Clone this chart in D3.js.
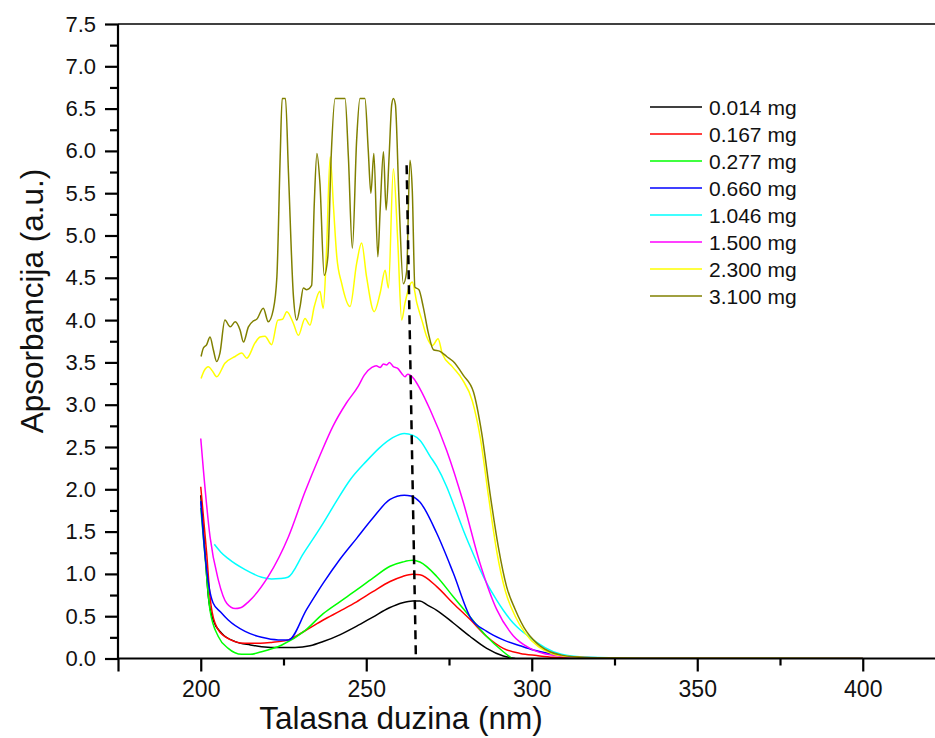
<!DOCTYPE html>
<html>
<head>
<meta charset="utf-8">
<script src="https://cdn.jsdelivr.net/npm/d3@7"></script>
<style>
  html, body { margin: 0; padding: 0; background: #fff; }
  svg { display: block; font-family: "Liberation Sans", Arial, sans-serif; }
</style>
</head>
<body>
<svg id="chart" width="935" height="738"></svg>
<script>
// UV-Vis absorption spectra: wavelength (nm) vs absorbance (a.u.)
const seriesLabels = ["0.014 mg", "0.167 mg", "0.277 mg", "0.660 mg", "1.046 mg", "1.500 mg", "2.300 mg", "3.100 mg"];
const seriesColors = ["#000000", "#ff0000", "#00ff00", "#0000ff", "#00ffff", "#ff00ff", "#ffff00", "#808000"];

const s0014 = [[200,1.93],[201.3,1.25],[202.3,0.73],[203.8,0.45],[206.3,0.30],[210.4,0.20],[215,0.16],[218.4,0.14],[224,0.13],[228.5,0.13],[233,0.15],[237,0.20],[242,0.28],[247,0.38],[252,0.49],[257,0.60],[261,0.66],[264,0.68],[266.2,0.68],[268.5,0.63],[271.3,0.57],[276.3,0.42],[281.4,0.26],[286.4,0.12],[291.4,0.03],[295,0]];

const s0167 = [[200,2.03],[201.8,1.24],[202.8,0.73],[204.3,0.42],[207.3,0.26],[213.4,0.18],[218,0.18],[221.4,0.19],[226.5,0.22],[232,0.34],[237,0.455],[242,0.56],[247.1,0.67],[252,0.79],[257.2,0.91],[261,0.97],[264,0.995],[266.2,0.99],[271.3,0.85],[276.3,0.65],[281.4,0.46],[286.4,0.26],[291.4,0.12],[296.5,0.06],[301.5,0.035],[306.5,0.015],[315,0.005],[330,0.002],[400,0]];

const s0277 = [[200,1.78],[201.3,1.2],[202.8,0.57],[205.3,0.26],[208.3,0.12],[212.4,0.05],[215,0.05],[218.4,0.08],[224.5,0.16],[231.5,0.33],[237,0.53],[242,0.67],[247.1,0.81],[252,0.95],[257.2,1.09],[261,1.14],[264,1.16],[266.2,1.14],[271.3,0.97],[276.3,0.73],[281.4,0.49],[286.4,0.26],[291.4,0.08],[294,0]];

const s0660 = [[200,1.86],[201.3,1.22],[202.5,0.85],[203.7,0.66],[206,0.55],[208.3,0.455],[213.4,0.32],[218.4,0.25],[223.4,0.22],[226.5,0.22],[232,0.58],[237,0.89],[242,1.17],[247.1,1.42],[252,1.66],[257.2,1.88],[261.5,1.93],[263.5,1.92],[266.2,1.85],[271.3,1.48],[276.3,1.01],[281.4,0.49],[286.4,0.32],[291.4,0.22],[296.5,0.15],[300.5,0.10],[306.5,0.05],[311,0.02],[320,0.008],[335,0.003],[400,0]];

const s1046 = [[204.1,1.35],[206,1.26],[208.3,1.18],[213.4,1.05],[218.4,0.96],[221.4,0.94],[224,0.945],[226.3,0.96],[231,1.24],[237,1.60],[241,1.86],[245.1,2.11],[250,2.33],[254,2.49],[258,2.61],[261.5,2.66],[264,2.64],[266.2,2.58],[269.3,2.39],[271.3,2.27],[274.3,2.03],[276.3,1.83],[279.3,1.52],[281.4,1.32],[284.4,1.05],[286.4,0.89],[289.4,0.69],[291.4,0.57],[294.4,0.42],[296.5,0.34],[299.5,0.25],[301.5,0.19],[306.5,0.08],[312,0.03],[320,0.012],[335,0.004],[400,0]];

const s1500 = [[200,2.6],[200.8,2.23],[202.8,1.44],[205.3,0.93],[207.9,0.65],[210.4,0.59],[212,0.60],[214.4,0.67],[220.4,0.97],[226.5,1.44],[231.5,1.97],[236,2.40],[240,2.75],[244,3.02],[247.6,3.22],[249.4,3.35],[251.7,3.44],[253,3.46],[254.2,3.44],[255.2,3.48],[256.2,3.47],[257,3.50],[258.2,3.45],[259.5,3.43],[260.7,3.37],[261.7,3.33],[262.5,3.36],[263.3,3.35],[264.5,3.30],[266.2,3.19],[269.3,2.94],[274.3,2.46],[279.3,1.85],[284.4,1.12],[289.4,0.58],[294.4,0.27],[299.5,0.12],[306,0.04],[315,0.012],[330,0.004],[400,0]];

const s2300 = [[200.1,3.31],[201,3.40],[202.3,3.45],[203.5,3.40],[204.8,3.33],[207.3,3.49],[210.4,3.57],[212.4,3.61],[213.9,3.55],[216.4,3.73],[217.9,3.80],[219.4,3.81],[221.4,3.71],[223.3,4.00],[224.7,4.01],[226,4.10],[228,3.96],[229.5,3.82],[231.5,4.02],[233,3.94],[234.3,4.16],[236,4.34],[237,4.14],[238,4.83],[239.1,5.93],[240.1,5.34],[241.1,4.75],[242.6,4.43],[245.1,4.16],[247.1,4.67],[248.6,4.91],[250.1,4.51],[252.4,4.10],[254.2,4.32],[255.7,4.59],[256.7,4.38],[258.2,5.79],[259.5,4.95],[260.7,4.00],[261.7,4.20],[263.9,4.45],[265.3,4.20],[266.8,4.00],[268.3,3.80],[270,3.70],[271.7,3.78],[273,3.60],[276,3.45],[279,3.30],[282,3.05],[284.5,2.6],[287,1.9],[289.5,1.25],[292,0.8],[295,0.5],[298,0.3],[302,0.14],[306,0.06],[312,0.02],[320,0.008],[340,0.003],[400,0]];

const s3100 = [[200.1,3.57],[200.8,3.67],[201.8,3.71],[202.8,3.80],[203.8,3.65],[204.8,3.51],[205.8,3.61],[207.3,4.00],[208.9,3.92],[210.4,3.98],[211.9,3.88],[212.9,3.74],[214.4,3.92],[215.9,3.99],[216.9,4.01],[218.9,4.14],[220.4,3.98],[221.9,4.12],[223.0,4.51],[224.0,5.93],[224.6,6.62],[225.6,6.62],[226.5,5.74],[228,4.28],[229,4.0],[230,4.16],[231,4.38],[232,4.36],[233.5,4.41],[234.3,5.38],[235.1,5.97],[236,5.62],[237.3,4.53],[238.4,4.75],[239.4,5.93],[240.6,6.62],[243.6,6.62],[244.6,5.93],[245.8,4.85],[247.1,6.13],[248.1,6.62],[249.6,6.62],[250.6,6.01],[251.4,5.50],[252.3,5.97],[253.5,4.75],[254.2,5.30],[255.2,5.99],[256,5.30],[256.9,5.93],[257.7,6.55],[258.2,6.62],[258.8,6.55],[259.9,5.42],[261.2,4.43],[262.2,4.57],[263.2,5.89],[263.9,5.54],[264.7,4.39],[265.9,4.36],[267.2,4.16],[268.8,3.84],[270.3,3.65],[272.3,3.63],[274.3,3.57],[276.3,3.51],[279.3,3.35],[282.4,3.15],[284.9,2.66],[287.4,1.95],[289.9,1.32],[292.4,0.85],[295,0.58],[298.4,0.32],[300.5,0.22],[302.5,0.15],[305.5,0.08],[309,0.04],[312.6,0.02],[320,0.008],[340,0.003],[400,0]];

const seriesData = [s0014, s0167, s0277, s0660, s1046, s1500, s2300, s3100];

// Shift of the absorption maximum (dashed guide)
const peakGuide = [[262.2, 5.83], [265, 0]];

const xMajorTicks = [175, 200, 250, 300, 350, 400];
const xLabelTicks = [200, 250, 300, 350, 400];
const xMinorTicks = [225, 275, 325, 375];
const yMajorTicks = [0, 0.5, 1, 1.5, 2, 2.5, 3, 3.5, 4, 4.5, 5, 5.5, 6, 6.5, 7, 7.5];
const yMinorTicks = [0.25, 0.75, 1.25, 1.75, 2.25, 2.75, 3.25, 3.75, 4.25, 4.75, 5.25, 5.75, 6.25, 6.75, 7.25];

const svg = d3.select("#chart");
const plotLeft = 118, plotRight = 945.5, plotTop = 24, plotBottom = 658.5;

const x = d3.scaleLinear().domain([175, 425]).range([plotLeft, plotRight]);
const y = d3.scaleLinear().domain([0, 7.5]).range([plotBottom, plotTop]);

svg.append("defs").append("clipPath").attr("id", "plotClip")
  .append("rect").attr("x", plotLeft).attr("y", plotTop)
  .attr("width", plotRight - plotLeft).attr("height", plotBottom - plotTop);

// Curves
const line = d3.line().x(d => x(d[0])).y(d => y(d[1])).curve(d3.curveMonotoneX);
const plot = svg.append("g").attr("clip-path", "url(#plotClip)");
seriesData.forEach((data, i) => {
  plot.append("path")
    .attr("d", line(data))
    .attr("fill", "none")
    .attr("stroke", seriesColors[i])
    .attr("stroke-width", 1.5)
    .attr("stroke-linejoin", "round");
});

// Dashed guide through the maxima
plot.append("path")
  .attr("d", d3.line().x(d => x(d[0])).y(d => y(d[1]))(peakGuide))
  .attr("fill", "none")
  .attr("stroke", "#000")
  .attr("stroke-width", 2.5)
  .attr("stroke-dasharray", "9,6");

// Frame: top line
svg.append("line").attr("x1", plotLeft).attr("x2", plotRight).attr("y1", plotTop).attr("y2", plotTop)
  .attr("stroke", "#000").attr("stroke-width", 1.5);

// Y axis
const yAxis = d3.axisLeft(y).tickValues(yMajorTicks).tickFormat(d3.format(".1f")).tickSize(13).tickPadding(9);
const gy = svg.append("g").attr("transform", `translate(${plotLeft},0)`).call(yAxis);
gy.select(".domain").attr("stroke-width", 2.2).attr("d", `M0,${plotBottom + 1}V${plotTop}`);
gy.selectAll(".tick line").attr("stroke-width", 2.2);
gy.selectAll(".tick text").attr("font-size", 22).attr("fill", "#111").attr("font-family", "Liberation Sans, Arial, sans-serif");
const gyMinor = svg.append("g").attr("transform", `translate(${plotLeft},0)`)
  .call(d3.axisLeft(y).tickValues(yMinorTicks).tickSize(8).tickFormat(""));
gyMinor.select(".domain").remove();
gyMinor.selectAll(".tick line").attr("stroke-width", 2.2);

// X axis
const xAxis = d3.axisBottom(x).tickValues(xMajorTicks).tickSize(13).tickPadding(9)
  .tickFormat(d => xLabelTicks.includes(d) ? d3.format("d")(d) : "");
const gx = svg.append("g").attr("transform", `translate(0,${plotBottom})`).call(xAxis);
gx.select(".domain").attr("stroke-width", 2.2).attr("d", `M${plotLeft - 1},0H${plotRight}`);
gx.selectAll(".tick line").attr("stroke-width", 2.2);
gx.selectAll(".tick text").attr("font-size", 23).attr("fill", "#111").attr("font-family", "Liberation Sans, Arial, sans-serif");
const gxMinor = svg.append("g").attr("transform", `translate(0,${plotBottom})`)
  .call(d3.axisBottom(x).tickValues(xMinorTicks).tickSize(7).tickFormat(""));
gxMinor.select(".domain").remove();
gxMinor.selectAll(".tick line").attr("stroke-width", 2.2);

// Axis titles
svg.append("text")
  .attr("x", 401)
  .attr("y", 729)
  .attr("text-anchor", "middle")
  .attr("font-size", 31.5)
  .attr("fill", "#111")
  .text("Talasna duzina (nm)");

svg.append("text")
  .attr("transform", "translate(43,301) rotate(-90)")
  .attr("text-anchor", "middle")
  .attr("font-size", 31.5)
  .attr("fill", "#111")
  .text("Apsorbancija (a.u.)");

// Legend
const legend = svg.append("g").attr("transform", "translate(650,107)");
seriesLabels.forEach((label, i) => {
  const row = legend.append("g").attr("transform", `translate(0,${i * 27})`);
  row.append("line").attr("x1", 0).attr("x2", 52).attr("y1", 0).attr("y2", 0)
    .attr("stroke", seriesColors[i]).attr("stroke-width", 1.5);
  row.append("text").attr("x", 59).attr("y", 7.5)
    .attr("font-size", 21).attr("fill", "#111").text(label);
});
</script>
</body>
</html>
